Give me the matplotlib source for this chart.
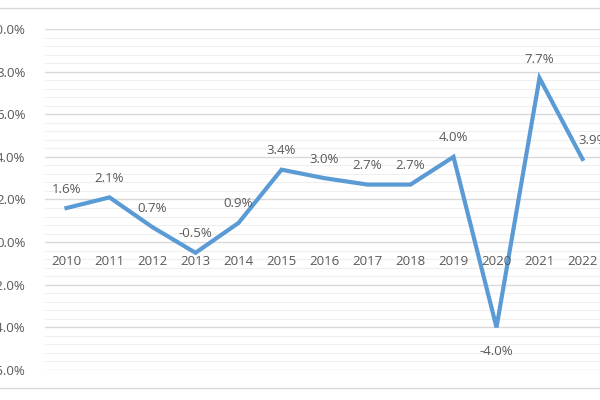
import matplotlib
matplotlib.use('Agg')
import matplotlib.pyplot as plt
import numpy as np
from matplotlib.lines import Line2D

years = ['2010', '2011', '2012', '2013', '2014', '2015', '2016',
         '2017', '2018', '2019', '2020', '2021', '2022']
growth = [1.6, 2.1, 0.7, -0.5, 0.9, 3.4, 3.0, 2.7, 2.7, 4.0, -4.0, 7.7, 3.9]

plt.rcParams['font.family'] = ['Open Sans', 'DejaVu Sans']
TXT = '#595959'

fig = plt.figure(figsize=(6, 4), dpi=100)
ax = fig.add_axes([45 / 600, 30 / 400, 559 / 600, 341 / 400])
x = np.arange(len(years))

ax.set_xlim(-0.5, len(years) - 0.5)
ax.set_ylim(-6, 10)
for v in np.arange(-6, 10.01, 0.4):
    major = abs(v / 2 - round(v / 2)) < 1e-6
    ax.axhline(v, color='#d9d9d9' if major else '#efefef',
               lw=1.0 if major else 0.8, zorder=0)

ax.plot(x, growth, color='#5B9BD5', lw=3, solid_joinstyle='miter', zorder=3)
for i, (xi, v) in enumerate(zip(x, growth)):
    off = -22 if v < -1 else 9
    dx = 8 if i == len(x) - 1 else 0
    ax.annotate(f'{v:.1f}%', (xi, v), xytext=(dx, off), textcoords='offset points',
                ha='center', va='bottom', fontsize=9.5, color=TXT)

for xi, y in zip(x, years):
    ax.text(xi, -0.6, y, ha='center', va='top', fontsize=9.5, color=TXT)

ax.set_yticks(np.arange(-6, 10.01, 2))
ax.set_yticklabels([f'{v:.1f}%' for v in np.arange(-6, 10.01, 2)],
                   fontsize=9.5, color=TXT)
ax.tick_params(axis='y', length=0, pad=14)
ax.set_xticks([])
for s in ax.spines.values():
    s.set_visible(False)

fig.add_artist(Line2D([0, 1], [1 - 8 / 400] * 2, color='#d9d9d9', lw=1))
fig.add_artist(Line2D([0, 1], [1 - 388 / 400] * 2, color='#d9d9d9', lw=1))

fig.savefig('out.png', dpi=100)
